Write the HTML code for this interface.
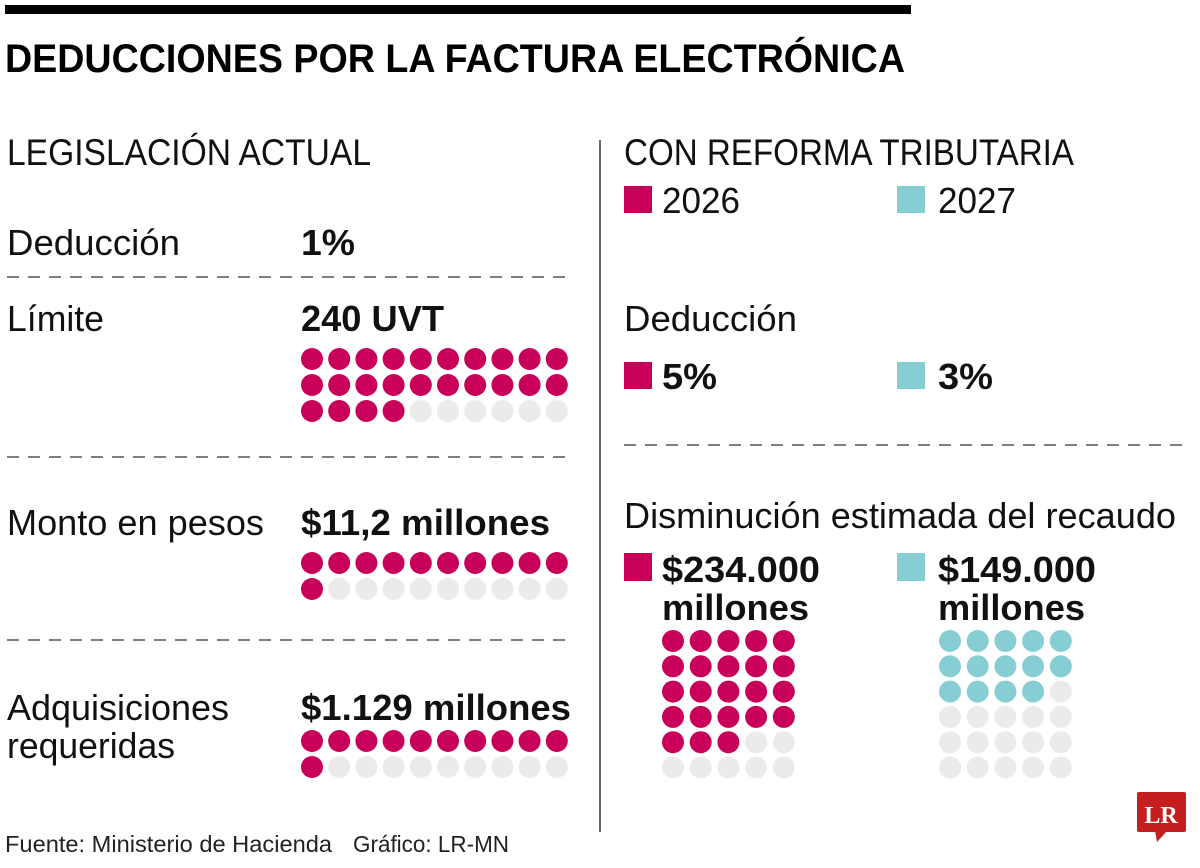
<!DOCTYPE html>
<html><head><meta charset="utf-8"><style>
html,body{margin:0;padding:0;background:#fff;}
svg{display:block;font-family:"Liberation Sans",sans-serif;}
</style></head><body>
<svg id="c" width="1200" height="868" viewBox="0 0 1200 868" xmlns="http://www.w3.org/2000/svg">
<rect x="5" y="5" width="906" height="9" fill="#000"/>
<text x="5" y="72" font-size="40" font-weight="bold" textLength="900" lengthAdjust="spacingAndGlyphs">DEDUCCIONES POR LA FACTURA ELECTRÓNICA</text>
<line x1="600" y1="140" x2="600" y2="832" stroke="#333" stroke-width="1.5"/>
<g fill="#111" font-size="36">
<text x="7" y="165" font-size="37" textLength="364" lengthAdjust="spacingAndGlyphs">LEGISLACIÓN ACTUAL</text>
<text x="624" y="165" font-size="37" textLength="450" lengthAdjust="spacingAndGlyphs">CON REFORMA TRIBUTARIA</text>
<text x="7" y="255" textLength="173" lengthAdjust="spacingAndGlyphs">Deducción</text>
<text x="301" y="255" font-weight="bold" textLength="54" lengthAdjust="spacingAndGlyphs">1%</text>
<text x="7" y="331" textLength="97" lengthAdjust="spacingAndGlyphs">Límite</text>
<text x="301" y="331" font-weight="bold" textLength="143" lengthAdjust="spacingAndGlyphs">240 UVT</text>
<text x="7" y="535" textLength="257" lengthAdjust="spacingAndGlyphs">Monto en pesos</text>
<text x="301" y="535" font-weight="bold" textLength="249" lengthAdjust="spacingAndGlyphs">$11,2 millones</text>
<text x="7" y="720" textLength="222" lengthAdjust="spacingAndGlyphs">Adquisiciones</text>
<text x="7" y="758" textLength="168" lengthAdjust="spacingAndGlyphs">requeridas</text>
<text x="301" y="720" font-weight="bold" textLength="270" lengthAdjust="spacingAndGlyphs">$1.129 millones</text>
<rect x="624" y="186" width="28" height="27" fill="#c8005a"/>
<text x="662" y="213" textLength="78" lengthAdjust="spacingAndGlyphs">2026</text>
<rect x="897" y="186" width="28" height="27" fill="#86cdd4"/>
<text x="938" y="213" textLength="78" lengthAdjust="spacingAndGlyphs">2027</text>
<text x="624" y="331" textLength="173" lengthAdjust="spacingAndGlyphs">Deducción</text>
<rect x="624" y="362" width="28" height="27" fill="#c8005a"/>
<text x="662" y="389" font-weight="bold" textLength="55" lengthAdjust="spacingAndGlyphs">5%</text>
<rect x="897" y="362" width="28" height="27" fill="#86cdd4"/>
<text x="938" y="389" font-weight="bold" textLength="55" lengthAdjust="spacingAndGlyphs">3%</text>
<text x="624" y="528" textLength="552" lengthAdjust="spacingAndGlyphs">Disminución estimada del recaudo</text>
<rect x="624" y="553" width="28" height="28" fill="#c8005a"/>
<text x="662" y="582" font-weight="bold" textLength="158" lengthAdjust="spacingAndGlyphs">$234.000</text>
<text x="662" y="620" font-weight="bold" textLength="147" lengthAdjust="spacingAndGlyphs">millones</text>
<rect x="897" y="553" width="28" height="28" fill="#86cdd4"/>
<text x="938" y="582" font-weight="bold" textLength="158" lengthAdjust="spacingAndGlyphs">$149.000</text>
<text x="938" y="620" font-weight="bold" textLength="147" lengthAdjust="spacingAndGlyphs">millones</text>
<text x="5" y="852" font-size="23" fill="#222" textLength="327" lengthAdjust="spacingAndGlyphs">Fuente: Ministerio de Hacienda</text>
<text x="353" y="852" font-size="23" fill="#222" textLength="156" lengthAdjust="spacingAndGlyphs">Gráfico: LR-MN</text>
</g>
<g stroke="#555" stroke-width="1.5" stroke-dasharray="12,9">
<line x1="7" y1="277" x2="565" y2="277"/>
<line x1="7" y1="457" x2="565" y2="457"/>
<line x1="7" y1="640" x2="565" y2="640"/>
<line x1="624" y1="445" x2="1183" y2="445"/>
</g>
<g>
<rect x="1137" y="792" width="49" height="40" rx="2" fill="#c41e1e"/>
<polygon points="1155,831 1167,831 1157,842" fill="#c41e1e"/>
<text x="1161" y="823" font-family="Liberation Serif,serif" font-weight="bold" font-size="24" fill="#fff" text-anchor="middle">LR</text>
</g>
<g id="dots"></g>
</svg>
<script>
const gridNames = ['limite-grid','monto-grid','adquisiciones-grid','recaudo-2026-grid','recaudo-2027-grid'];
const filledCounts = [24, 11, 11, 23, 14];
const totalCounts = [30, 20, 20, 30, 30];
const gridColumns = [10, 10, 10, 5, 5];
const gridColors = ['#c8005a','#c8005a','#c8005a','#c8005a','#86cdd4'];
const layout = [
  {x:312,y:359,px:27.2,py:26},
  {x:312,y:563,px:27.2,py:26},
  {x:312,y:741,px:27.2,py:26},
  {x:673,y:641,px:27.7,py:25.3},
  {x:950,y:641,px:27.7,py:25.3}
];
const NS='http://www.w3.org/2000/svg';
const root=document.getElementById('dots');
gridNames.forEach((name,g)=>{
  const grp=document.createElementNS(NS,'g');
  
  
  for(let i=0;i<totalCounts[g];i++){
    const c=document.createElementNS(NS,'circle');
    const col=i%gridColumns[g], row=Math.floor(i/gridColumns[g]);
    c.setAttribute('cx',layout[g].x+col*layout[g].px);
    c.setAttribute('cy',layout[g].y+row*layout[g].py);
    c.setAttribute('r',11);
    c.setAttribute('fill', i<filledCounts[g]?gridColors[g]:'#ebebeb');
    
    
    grp.appendChild(c);
  }
  root.appendChild(grp);
});
</script>
</body></html>
